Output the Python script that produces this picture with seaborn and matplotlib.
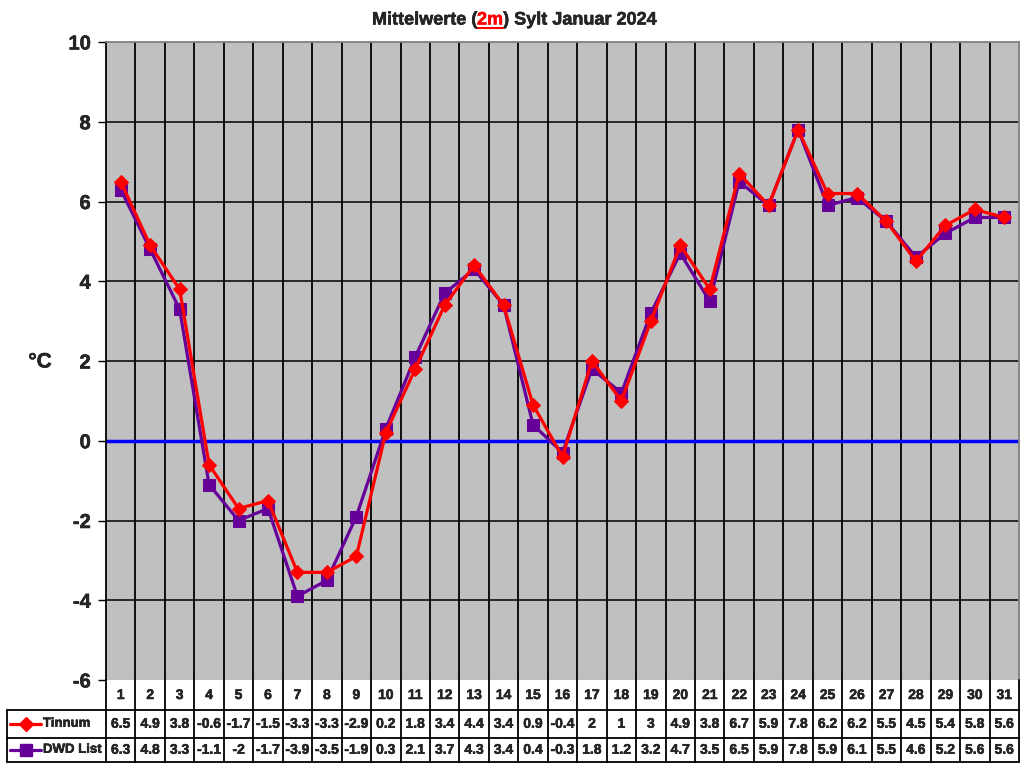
import matplotlib.pyplot as plt
import matplotlib.patheffects as pe
import seaborn as sns

days = list(range(1, 32))
tinnum = [6.5, 4.9, 3.8, -0.6, -1.7, -1.5, -3.3, -3.3, -2.9, 0.2, 1.8, 3.4, 4.4, 3.4, 0.9, -0.4,
          2, 1, 3, 4.9, 3.8, 6.7, 5.9, 7.8, 6.2, 6.2, 5.5, 4.5, 5.4, 5.8, 5.6]
dwd = [6.3, 4.8, 3.3, -1.1, -2, -1.7, -3.9, -3.5, -1.9, 0.3, 2.1, 3.7, 4.3, 3.4, 0.4, -0.3,
       1.8, 1.2, 3.2, 4.7, 3.5, 6.5, 5.9, 7.8, 5.9, 6.1, 5.5, 4.6, 5.2, 5.6, 5.6]
tinnum_txt = ['6.5', '4.9', '3.8', '-0.6', '-1.7', '-1.5', '-3.3', '-3.3', '-2.9', '0.2', '1.8',
              '3.4', '4.4', '3.4', '0.9', '-0.4', '2', '1', '3', '4.9', '3.8', '6.7', '5.9',
              '7.8', '6.2', '6.2', '5.5', '4.5', '5.4', '5.8', '5.6']
dwd_txt = ['6.3', '4.8', '3.3', '-1.1', '-2', '-1.7', '-3.9', '-3.5', '-1.9', '0.3', '2.1',
           '3.7', '4.3', '3.4', '0.4', '-0.3', '1.8', '1.2', '3.2', '4.7', '3.5', '6.5', '5.9',
           '7.8', '5.9', '6.1', '5.5', '4.6', '5.2', '5.6', '5.6']
yticks = [-6, -4, -2, 0, 2, 4, 6, 8, 10]

RED = '#FF0000'
PURPLE = '#660099'

sns.set_style('white')
plt.rcParams['font.family'] = ['Liberation Sans', 'DejaVu Sans']
plt.rcParams['font.weight'] = 'bold'

# slight outline to make the bold text look heavier
heavy = [pe.withStroke(linewidth=0.35, foreground='black')]

W, H = 1024, 768
fig = plt.figure(figsize=(10.24, 7.68), dpi=100)
L, R, T, B = 106, 1019, 42, 680
ax = fig.add_axes([L / W, (H - B) / H, (R - L) / W, (B - T) / H])
ax.set_facecolor('#C0C0C0')

# grid
for d in days[:-1]:
    ax.axvline(d + 0.5, color='black', lw=1.3, zorder=1)
for v in yticks[1:-1]:
    ax.axhline(v, color='black', lw=1.1, zorder=1)
ax.axhline(0, color='#0000FF', lw=2.5, zorder=2)

sns.lineplot(x=days, y=tinnum, ax=ax, color=RED, lw=2.3, marker='D', markersize=7,
             markeredgecolor=RED, zorder=4)
sns.lineplot(x=days, y=dwd, ax=ax, color=PURPLE, lw=2.3, marker='s', markersize=9,
             markeredgecolor=PURPLE, zorder=3)

ax.set_xlim(0.5, 31.5)
ax.set_ylim(-6, 10)
ax.set_yticks(yticks)
ax.set_yticklabels([str(v) for v in yticks], fontsize=14.5, fontweight='bold')
for lbl in ax.get_yticklabels():
    lbl.set_path_effects(heavy)
ax.set_xticks([])
ax.tick_params(axis='y', direction='out', length=6, width=1, color='black', pad=5, left=True)
for s in ['top', 'right']:
    ax.spines[s].set_color('#808080')
    ax.spines[s].set_linewidth(1.3)
ax.spines['left'].set_color('black')
ax.spines['left'].set_linewidth(1.3)
ax.spines['bottom'].set_visible(False)

fig.text(40 / W, 1 - 362 / H, '°C', fontsize=15, fontweight='bold', ha='center', va='center',
         path_effects=heavy)

# title with red underlined "2m"
tfs = 13
t1 = fig.text(372 / W, 1 - 20 / H, 'Mittelwerte (', fontsize=tfs, fontweight='bold',
              ha='left', va='center', path_effects=heavy)
t2 = ax.annotate('2m', xycoords=t1, xy=(1, 0), va='bottom', fontsize=tfs,
                 fontweight='bold', color=RED,
                 path_effects=[pe.withStroke(linewidth=0.35, foreground=RED)])
t3 = ax.annotate(') Sylt Januar 2024', xycoords=t2, xy=(1, 0), va='bottom', fontsize=tfs,
                 fontweight='bold', path_effects=heavy)
fig.canvas.draw()
bb = t2.get_window_extent()
fig.add_artist(plt.Line2D([bb.x0 / W, bb.x1 / W], [(bb.y0 + 1) / H, (bb.y0 + 1) / H],
                          color=RED, lw=1.5))

# data table below the plot
TL, TB = 7, 762
tax = fig.add_axes([TL / W, (H - TB) / H, (R - TL) / W, (TB - B) / H])
px_per_day = (R - L) / 31
x_left = 0.5 - (L - TL) / px_per_day
tax.set_xlim(x_left, 31.5)
tax.set_ylim(TB - B, 0)
tax.axis('off')
r1, r2, r3 = 30, 57.5, TB - B
lc = dict(color='black', lw=1.3, clip_on=False)
tax.plot([x_left, 31.5], [r1, r1], **lc)
tax.plot([x_left, 31.5], [r2, r2], **lc)
tax.plot([x_left, 31.5], [r3, r3], **lc)
tax.plot([x_left, x_left], [r1, r3], **lc)
for d in [0] + days:
    tax.plot([d + 0.5, d + 0.5], [0, r3], **lc)

fs = 10
for i, d in enumerate(days):
    tax.text(d, r1 / 2, str(d), ha='center', va='center', fontsize=fs, fontweight='bold',
             path_effects=heavy)
    tax.text(d, (r1 + r2) / 2, tinnum_txt[i], ha='center', va='center', fontsize=fs,
             fontweight='bold', path_effects=heavy)
    tax.text(d, (r2 + r3) / 2, dwd_txt[i], ha='center', va='center', fontsize=fs,
             fontweight='bold', path_effects=heavy)

def px(x):
    return 0.5 + (x - L) / px_per_day

for yy, col, mk, ms, lab in [((r1 + r2) / 2, RED, 'D', 7, 'Tinnum'),
                             ((r2 + r3) / 2, PURPLE, 's', 9, 'DWD List')]:
    tax.plot([px(10), px(41)], [yy, yy], color=col, lw=2.3)
    tax.plot([px(26)], [yy], color=col, marker=mk, markersize=ms)
    tax.text(px(43), yy, lab, ha='left', va='center', fontsize=9.5, fontweight='bold',
             path_effects=heavy)

fig.savefig('out.png', dpi=100)
